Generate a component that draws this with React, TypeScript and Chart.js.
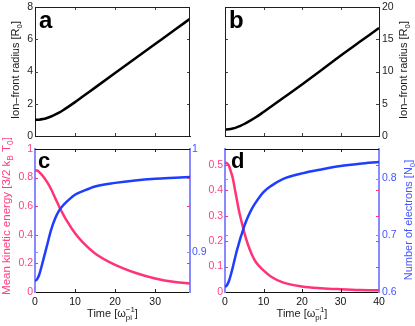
import React, { useEffect, useRef } from 'react';
import { Chart, registerables } from 'chart.js';
Chart.register(...registerables);

const W = 415;
const H = 326;
const FAM = '"Liberation Sans", Arial, Helvetica, sans-serif';

const PINK = '#ff3377';
const PINK_TXT = '#ff3f80';
const BLUE = '#1f3dff';
const BLUE_TXT = '#4455ff';
const BLUE_AXIS = '#8a8aff';
const DARK = '#1e1e1e';

// ---------- Panel a ----------
const timeA = [0, 1, 2, 3, 4, 5, 6, 7, 8, 10, 12, 15, 20, 25, 30, 35, 38.7];
const radiusA = [1.0, 1.01, 1.05, 1.12, 1.21, 1.32, 1.45, 1.6, 1.76, 2.1, 2.46, 3.0, 3.9, 4.8, 5.7, 6.6, 7.27];
const xTicksA = [0, 10, 20, 30];
const yTicksA = [0, 2, 4, 6, 8];

// ---------- Panel b ----------
const timeB = [0, 1, 2, 3, 4, 5, 6, 8, 10, 12, 15, 20, 25, 30, 35, 40];
const radiusB = [1.0, 1.04, 1.15, 1.33, 1.57, 1.86, 2.18, 2.9, 3.72, 4.56, 5.85, 8.0, 10.2, 12.45, 14.6, 16.75];
const xTicksB = [0, 10, 20, 30, 40];
const yTicksB = [0, 5, 10, 15, 20];

// ---------- Panel c ----------
const timeC = [0, 0.5, 1, 2, 3, 4, 5, 6, 7, 8, 10, 12, 15, 20, 25, 30, 35, 38.7];
const energyC = [0.85, 0.85, 0.84, 0.81, 0.77, 0.72, 0.66, 0.60, 0.545, 0.495, 0.41, 0.345, 0.27, 0.19, 0.135, 0.095, 0.07, 0.06];
const electronsC = [0.8715, 0.873, 0.877, 0.891, 0.906, 0.921, 0.932, 0.94, 0.945, 0.949, 0.9555, 0.959, 0.9635, 0.967, 0.9694, 0.971, 0.972, 0.9727];
const xTicksC = [0, 10, 20, 30];
const yTicksCLeft = [0, 0.2, 0.4, 0.6, 0.8, 1];
const yTicksCRight = [0.9, 1];

// ---------- Panel d ----------
const timeD = [0, 0.5, 1, 1.5, 2, 2.5, 3, 3.5, 4, 4.5, 5, 6, 7, 8, 10, 12, 15, 20, 25, 30, 35, 40];
const energyD = [0.509, 0.507, 0.498, 0.475, 0.45, 0.41, 0.37, 0.33, 0.295, 0.265, 0.235, 0.185, 0.147, 0.118, 0.085, 0.06, 0.038, 0.022, 0.015, 0.011, 0.008, 0.007];
const electronsD = [0.609, 0.612, 0.619, 0.63, 0.643, 0.657, 0.671, 0.683, 0.695, 0.705, 0.716, 0.733, 0.747, 0.758, 0.776, 0.787, 0.799, 0.809, 0.816, 0.822, 0.826, 0.829];
const xTicksD = [0, 10, 20, 30, 40];
const yTicksDLeft = [0, 0.1, 0.2, 0.3, 0.4, 0.5];
const yTicksDRight = [0.6, 0.7, 0.8];

type Seg = { t: string; k?: 'sub' | 'sup' | 'subsup'; sup?: string };

const radiusTitle: Seg[] = [{ t: 'Ion\u2013front radius [R' }, { t: '0', k: 'sub' }, { t: ']' }];
const energyTitle: Seg[] = [{ t: 'Mean kinetic energy [3/2 k' }, { t: 'B', k: 'sub' }, { t: ' T' }, { t: '0', k: 'sub' }, { t: ']' }];
const electronTitle: Seg[] = [{ t: 'Number of electrons [N' }, { t: '0', k: 'sub' }, { t: ']' }];
const timeTitle: Seg[] = [{ t: 'Time [\u03c9' }, { t: 'pi', k: 'subsup', sup: '\u22121' }, { t: ']' }];

function drawRich(ctx: CanvasRenderingContext2D, segs: Seg[], cx: number, cy: number, rot: number, size: number, color: string) {
  ctx.save();
  ctx.translate(cx, cy);
  ctx.rotate(rot);
  ctx.fillStyle = color;
  ctx.textBaseline = 'alphabetic';
  ctx.textAlign = 'left';
  const small = size * 0.72;
  const big = `${size}px ${FAM}`;
  const sm = `${small}px ${FAM}`;
  const widths = segs.map((s) => {
    if (!s.k) {
      ctx.font = big;
      return ctx.measureText(s.t).width;
    }
    ctx.font = sm;
    const w1 = ctx.measureText(s.t).width;
    const w2 = s.sup ? ctx.measureText(s.sup).width : 0;
    return Math.max(w1, w2);
  });
  const total = widths.reduce((a, b) => a + b, 0);
  let x = -total / 2;
  const base = size * 0.36;
  segs.forEach((s, i) => {
    if (!s.k) {
      ctx.font = big;
      ctx.fillText(s.t, x, base);
    } else {
      ctx.font = sm;
      if (s.k === 'sub' || s.k === 'subsup') ctx.fillText(s.t, x, base + size * 0.28);
      if (s.k === 'sup') ctx.fillText(s.t, x, base - size * 0.42);
      if (s.k === 'subsup' && s.sup) ctx.fillText(s.sup, x, base - size * 0.42);
    }
    x += widths[i];
  });
  ctx.restore();
}

const decor = {
  id: 'decor',
  afterDraw(chart: any, _args: any, opts: any) {
    const ctx: CanvasRenderingContext2D = chart.ctx;
    const ca = chart.chartArea;
    ctx.save();
    const line = (x1: number, y1: number, x2: number, y2: number) => {
      ctx.beginPath();
      ctx.moveTo(x1, y1);
      ctx.lineTo(x2, y2);
      ctx.stroke();
    };
    (opts.ticks || []).forEach((tk: any) => {
      const s = chart.scales[tk.id];
      ctx.strokeStyle = tk.color;
      ctx.lineWidth = 1;
      const len = tk.len || 3;
      s.ticks.forEach((t: any) => {
        const p = s.getPixelForValue(t.value);
        if (s.isHorizontal()) {
          if (p <= ca.left + 1 || p >= ca.right - 1) return;
          const x = Math.round(p) + 0.5;
          line(x, ca.bottom, x, ca.bottom - len);
          line(x, ca.top, x, ca.top + len);
        } else {
          if (p <= ca.top + 1 || p >= ca.bottom - 1) return;
          const y = Math.round(p) + 0.5;
          line(ca.left, y, ca.left + len, y);
          line(ca.right, y, ca.right - len, y);
        }
      });
    });
    (opts.lines || []).forEach((l: any) => {
      ctx.strokeStyle = l.color;
      ctx.lineWidth = l.width || 1;
      const off = (l.width || 1) % 2 ? 0.5 : 0;
      if (l.side === 'top') line(ca.left, Math.round(ca.top) + off, ca.right, Math.round(ca.top) + off);
      if (l.side === 'bottom') line(ca.left, Math.round(ca.bottom) - off, ca.right, Math.round(ca.bottom) - off);
      if (l.side === 'left') line(Math.round(ca.left) + off, ca.top, Math.round(ca.left) + off, ca.bottom);
      if (l.side === 'right') line(Math.round(ca.right) - off, ca.top, Math.round(ca.right) - off, ca.bottom);
    });
    (opts.titles || []).forEach((t: any) => {
      drawRich(ctx, t.segs, t.x, t.y, t.rot || 0, t.size || 11, t.color);
    });
    if (opts.letter) {
      ctx.fillStyle = '#000';
      ctx.font = `bold ${opts.letter.size}px ${FAM}`;
      ctx.textBaseline = 'alphabetic';
      ctx.textAlign = 'left';
      ctx.fillText(opts.letter.text, opts.letter.x, opts.letter.y);
    }
    ctx.restore();
  },
};

const fmt = (v: any) => String(+(+v).toFixed(3));

function axis(opts: {
  pos: 'left' | 'right' | 'bottom';
  min: number;
  max: number;
  ticks: number[];
  size: number;
  color: string;
  borderColor: string;
  borderWidth?: number;
  showLabels?: boolean;
  pad?: number;
  fontSize?: number;
}) {
  return {
    type: 'linear',
    position: opts.pos,
    min: opts.min,
    max: opts.max,
    afterBuildTicks: (s: any) => {
      s.ticks = opts.ticks.map((v) => ({ value: v }));
    },
    afterFit: (s: any) => {
      if (opts.pos === 'bottom') s.height = opts.size;
      else s.width = opts.size;
      s.paddingLeft = 0;
      s.paddingRight = 0;
      s.paddingTop = 0;
      s.paddingBottom = 0;
    },
    ticks: {
      display: opts.showLabels !== false,
      color: opts.color,
      padding: opts.pad ?? 2,
      font: { size: opts.fontSize || 10.5, family: FAM },
      callback: fmt,
      maxRotation: 0,
      autoSkip: false,
    },
    grid: { display: false, drawTicks: false, tickLength: 0 },
    border: { display: true, color: opts.borderColor, width: opts.borderWidth || 1 },
  };
}

function pts(xs: number[], ys: number[]) {
  return xs.map((x, i) => ({ x, y: ys[i] }));
}

const lineDs = (data: any, color: string, yAxisID: string, order: number) => ({
  data,
  borderColor: color,
  borderWidth: 2.5,
  pointRadius: 0,
  fill: false,
  cubicInterpolationMode: 'monotone',
  xAxisID: 'x',
  yAxisID,
  order,
});

const baseOpts = (padding: any) => ({
  animation: false,
  responsive: false,
  maintainAspectRatio: false,
  devicePixelRatio: 1,
  layout: { padding },
});

function configA() {
  const YW = 30;
  return {
    type: 'line',
    data: { datasets: [lineDs(pts(timeA, radiusA), '#000', 'y', 0)] },
    options: {
      ...baseOpts({ left: 35 - YW, top: 7, right: W - 190, bottom: H - 136 }),
      plugins: {
        legend: { display: false },
        tooltip: { enabled: false },
        decor: {
          ticks: [{ id: 'x', color: '#444' }, { id: 'y', color: '#444' }],
          lines: [{ side: 'top', color: DARK }, { side: 'right', color: DARK }],
          titles: [{ segs: radiusTitle, x: 15, y: 70, rot: -Math.PI / 2, color: '#1a1a1a' }],
          letter: { text: 'a', x: 39, y: 28, size: 24 },
        },
      },
      scales: {
        x: axis({ pos: 'bottom', min: 0, max: 38.7, ticks: xTicksA, size: 0, color: DARK, borderColor: DARK, showLabels: false }),
        y: axis({ pos: 'left', min: 0, max: 8, ticks: yTicksA, size: YW, color: DARK, borderColor: DARK }),
      },
    },
    plugins: [decor],
  };
}

function configB() {
  const YW = 30;
  return {
    type: 'line',
    data: { datasets: [lineDs(pts(timeB, radiusB), '#000', 'y', 0)] },
    options: {
      ...baseOpts({ left: 225, top: 7, right: W - 379 - YW, bottom: H - 136 }),
      plugins: {
        legend: { display: false },
        tooltip: { enabled: false },
        decor: {
          ticks: [{ id: 'x', color: '#444' }, { id: 'y', color: '#444' }],
          lines: [{ side: 'top', color: DARK }, { side: 'left', color: DARK }],
          titles: [{ segs: radiusTitle, x: 403, y: 70, rot: -Math.PI / 2, color: '#1a1a1a' }],
          letter: { text: 'b', x: 229, y: 28, size: 24 },
        },
      },
      scales: {
        x: axis({ pos: 'bottom', min: 0, max: 40, ticks: xTicksB, size: 0, color: DARK, borderColor: DARK, showLabels: false }),
        y: axis({ pos: 'right', min: 0, max: 20, ticks: yTicksB, size: YW, color: DARK, borderColor: DARK, pad: 3 }),
      },
    },
    plugins: [decor],
  };
}

function configC() {
  const YW = 30;
  const YW2 = 25;
  const XH = 20;
  return {
    type: 'line',
    data: {
      datasets: [
        lineDs(pts(timeC, electronsC), BLUE, 'y1', 0),
        lineDs(pts(timeC, energyC), PINK, 'y', 1),
      ],
    },
    options: {
      ...baseOpts({ left: 35 - YW, top: 149, right: W - 190 - YW2, bottom: H - 292 - XH }),
      plugins: {
        legend: { display: false },
        tooltip: { enabled: false },
        decor: {
          ticks: [{ id: 'x', color: '#222' }, { id: 'y', color: PINK }, { id: 'y1', color: BLUE_AXIS }],
          lines: [{ side: 'top', color: '#111' }],
          titles: [
            { segs: energyTitle, x: 5.5, y: 216, rot: -Math.PI / 2, color: PINK_TXT, size: 11.5 },
            { segs: timeTitle, x: 112.5, y: 313, color: '#1a1a1a' },
          ],
          letter: { text: 'c', x: 38, y: 168, size: 22 },
        },
      },
      scales: {
        x: axis({ pos: 'bottom', min: 0, max: 38.7, ticks: xTicksC, size: XH, color: '#111', borderColor: '#111', pad: 4 }),
        y: axis({ pos: 'left', min: 0, max: 1, ticks: yTicksCLeft, size: YW, color: PINK_TXT, borderColor: BLUE_AXIS, borderWidth: 2 }),
        y1: axis({ pos: 'right', min: 0.8607, max: 1, ticks: yTicksCRight, size: YW2, color: BLUE_TXT, borderColor: BLUE_AXIS, borderWidth: 2 }),
      },
    },
    plugins: [decor],
  };
}

function configD() {
  const YW = 30;
  const YW2 = 30;
  const XH = 20;
  return {
    type: 'line',
    data: {
      datasets: [
        lineDs(pts(timeD, electronsD), BLUE, 'y1', 0),
        lineDs(pts(timeD, energyD), PINK, 'y', 1),
      ],
    },
    options: {
      ...baseOpts({ left: 225 - YW, top: 149, right: W - 379 - YW2, bottom: H - 292 - XH }),
      plugins: {
        legend: { display: false },
        tooltip: { enabled: false },
        decor: {
          ticks: [{ id: 'x', color: '#222' }, { id: 'y', color: PINK }, { id: 'y1', color: BLUE_AXIS }],
          lines: [{ side: 'top', color: '#111' }],
          titles: [
            { segs: electronTitle, x: 408, y: 220, rot: -Math.PI / 2, color: BLUE_TXT },
            { segs: timeTitle, x: 302, y: 313, color: '#1a1a1a' },
          ],
          letter: { text: 'd', x: 231, y: 168, size: 22 },
        },
      },
      scales: {
        x: axis({ pos: 'bottom', min: 0, max: 40, ticks: xTicksD, size: XH, color: '#111', borderColor: '#111', pad: 4 }),
        y: axis({ pos: 'left', min: 0, max: 0.563, ticks: yTicksDLeft, size: YW, color: PINK_TXT, borderColor: BLUE_AXIS, borderWidth: 2 }),
        y1: axis({ pos: 'right', min: 0.6, max: 0.852, ticks: yTicksDRight, size: YW2, color: BLUE_TXT, borderColor: BLUE_AXIS, borderWidth: 2, pad: 3 }),
      },
    },
    plugins: [decor],
  };
}

function Panel({ make }: { make: () => any }) {
  const ref = useRef<HTMLCanvasElement | null>(null);
  useEffect(() => {
    if (!ref.current) return;
    const chart = new Chart(ref.current, make() as any);
    return () => chart.destroy();
  }, [make]);
  return (
    <canvas
      ref={ref}
      width={W}
      height={H}
      style={{ position: 'absolute', left: 0, top: 0, width: W, height: H }}
    />
  );
}

export default function App() {
  return (
    <div style={{ position: 'absolute', left: 0, top: 0, width: W, height: H, background: '#fff', overflow: 'hidden' }}>
      <Panel make={configA} />
      <Panel make={configB} />
      <Panel make={configC} />
      <Panel make={configD} />
    </div>
  );
}
